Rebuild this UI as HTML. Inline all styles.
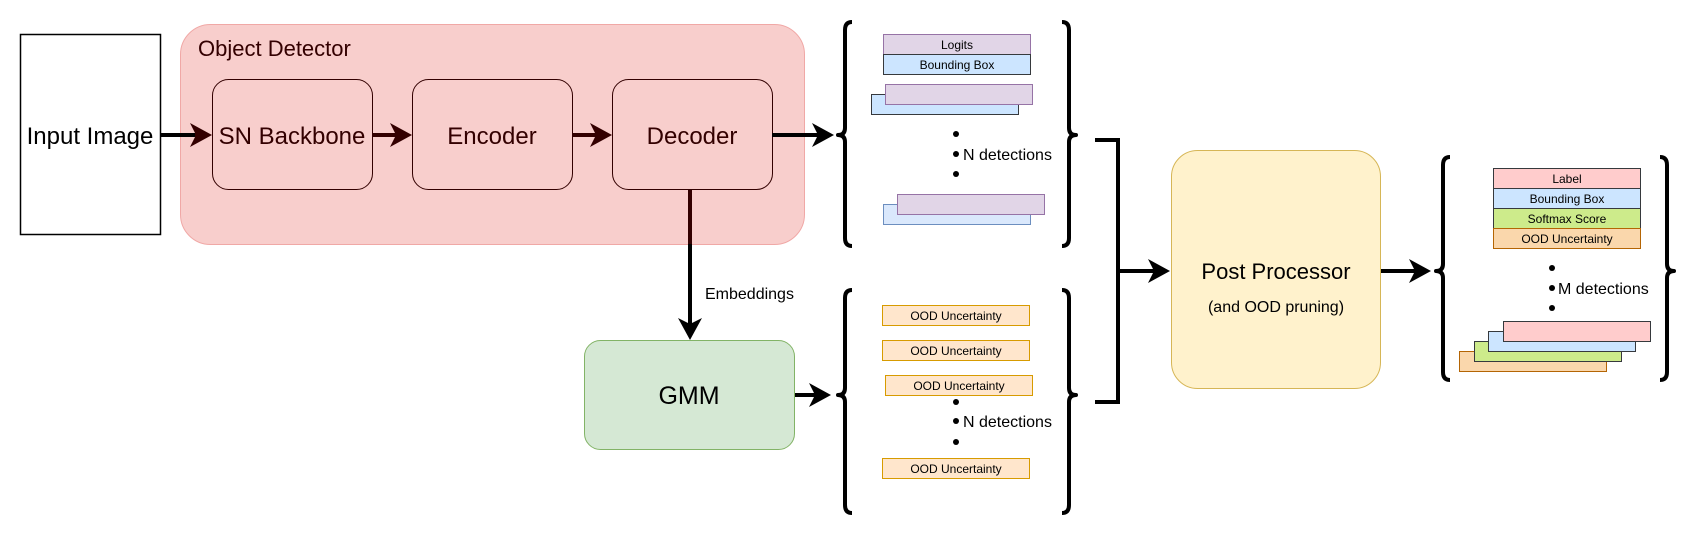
<!DOCTYPE html>
<html><head><meta charset="utf-8"><style>
html,body{margin:0;padding:0;background:#fff;width:1700px;height:538px;overflow:hidden}
svg text{font-family:"Liberation Sans",Arial,sans-serif}
</style></head><body>
<svg width="1700" height="538" viewBox="0 0 1700 538" xmlns="http://www.w3.org/2000/svg">
<rect x="20.5" y="34.5" width="140" height="200" fill="#fff" stroke="#000" stroke-width="1.5"/>
<text x="90" y="144" font-size="24" text-anchor="middle">Input Image</text>
<rect x="180.5" y="24.5" width="624" height="220" rx="30" fill="#f8cecc" stroke="#f0a8a6" stroke-width="1"/>
<text x="198" y="56" font-size="22" fill="#330000">Object Detector</text>
<rect x="212.5" y="79.5" width="160" height="110" rx="16" fill="#f8cecc" stroke="#330000" stroke-width="1"/>
<text x="292" y="144" font-size="24" text-anchor="middle" fill="#330000">SN Backbone</text>
<rect x="412.5" y="79.5" width="160" height="110" rx="16" fill="#f8cecc" stroke="#330000" stroke-width="1"/>
<text x="492" y="144" font-size="24" text-anchor="middle" fill="#330000">Encoder</text>
<rect x="612.5" y="79.5" width="160" height="110" rx="16" fill="#f8cecc" stroke="#330000" stroke-width="1"/>
<text x="692" y="144" font-size="24" text-anchor="middle" fill="#330000">Decoder</text>
<g stroke-width="4">
<line x1="161" y1="135" x2="195" y2="135" stroke="#000"/>
<line x1="195" y1="135" x2="200" y2="135" stroke="#330000"/>
<line x1="372" y1="135" x2="400" y2="135" stroke="#330000"/>
<line x1="572" y1="135" x2="600" y2="135" stroke="#330000"/>
<line x1="772" y1="135" x2="818" y2="135" stroke="#000"/>
<line x1="690" y1="189" x2="690" y2="244" stroke="#330000"/>
<line x1="690" y1="244" x2="690" y2="325" stroke="#000"/>
<line x1="795" y1="395" x2="818" y2="395" stroke="#000"/>
<line x1="1380" y1="271" x2="1416" y2="271" stroke="#000"/>
<line x1="1118" y1="271" x2="1156" y2="271" stroke="#000"/>
<polyline points="1095,140 1118,140 1118,402 1095,402" fill="none" stroke="#000"/>
</g>
<g>
<polygon points="212,135 190,123 196,135 190,147" fill="#330000"/>
<polygon points="412,135 390,123 396,135 390,147" fill="#330000"/>
<polygon points="612,135 590,123 596,135 590,147" fill="#330000"/>
<polygon points="834,135 812,123 818,135 812,147" fill="#000"/>
<polygon points="690,340 678,318 690,324 702,318" fill="#000"/>
<polygon points="831,395 809,383 815,395 809,407" fill="#000"/>
<polygon points="1170,271 1148,259 1154,271 1148,283" fill="#000"/>
<polygon points="1431,271 1409,259 1415,271 1409,283" fill="#000"/>
</g>
<text x="705" y="299" font-size="16">Embeddings</text>
<rect x="584.5" y="340.5" width="210" height="109" rx="16" fill="#d5e8d4" stroke="#82b366" stroke-width="1"/>
<text x="689" y="404" font-size="25" text-anchor="middle">GMM</text>
<g fill="none" stroke="#000" stroke-width="4" stroke-linejoin="round">
<path d="M852,22 Q845,22 845,30 L845,128 Q845,135 838,135 Q845,135 845,142 L845,238 Q845,246 852,246"/>
<path d="M1062,22 Q1069,22 1069,30 L1069,128 Q1069,135 1076,135 Q1069,135 1069,142 L1069,238 Q1069,246 1062,246"/>
<path d="M852,290 Q845,290 845,298 L845,388 Q845,395 838,395 Q845,395 845,402 L845,505 Q845,513 852,513"/>
<path d="M1062,290 Q1069,290 1069,298 L1069,388 Q1069,395 1076,395 Q1069,395 1069,402 L1069,505 Q1069,513 1062,513"/>
<path d="M1450,157 Q1443,157 1443,165 L1443,264 Q1443,271 1436,271 Q1443,271 1443,278 L1443,372 Q1443,380 1450,380"/>
<path d="M1660,157 Q1667,157 1667,165 L1667,264 Q1667,271 1674,271 Q1667,271 1667,278 L1667,372 Q1667,380 1660,380"/>
</g>
<g font-size="12" text-anchor="middle">
<rect x="883.5" y="34.5" width="147" height="20" fill="#e1d5e7" stroke="#9673a6"/>
<text x="957" y="49">Logits</text>
<rect x="883.5" y="54.5" width="147" height="20" fill="#cce5ff" stroke="#36393d"/>
<text x="957" y="69">Bounding Box</text>
<rect x="871.5" y="94.5" width="147" height="20" fill="#cce5ff" stroke="#36393d"/>
<rect x="885.5" y="84.5" width="147" height="20" fill="#e1d5e7" stroke="#9673a6"/>
<rect x="883.5" y="204.5" width="147" height="20" fill="#dae8fc" stroke="#6c8ebf"/>
<rect x="897.5" y="194.5" width="147" height="20" fill="#e1d5e7" stroke="#9673a6"/>
</g>
<g fill="#000">
<circle cx="956" cy="134" r="3"/><circle cx="956" cy="154" r="3"/><circle cx="956" cy="174" r="3"/>
<circle cx="956" cy="402" r="3"/><circle cx="956" cy="421" r="3"/><circle cx="956" cy="442" r="3"/>
<circle cx="1552" cy="268" r="3"/><circle cx="1552" cy="288" r="3"/><circle cx="1552" cy="308" r="3"/>
</g>
<text x="963" y="160" font-size="16">N detections</text>
<text x="963" y="427" font-size="16">N detections</text>
<text x="1558" y="294" font-size="16">M detections</text>
<g font-size="12" text-anchor="middle">
<rect x="882.5" y="305.5" width="147" height="20" fill="#ffe6cc" stroke="#d79b00"/>
<text x="956" y="320">OOD Uncertainty</text>
<rect x="882.5" y="340.5" width="147" height="20" fill="#ffe6cc" stroke="#d79b00"/>
<text x="956" y="355">OOD Uncertainty</text>
<rect x="885.5" y="375.5" width="147" height="20" fill="#ffe6cc" stroke="#d79b00"/>
<text x="959" y="390">OOD Uncertainty</text>
<rect x="882.5" y="458.5" width="147" height="20" fill="#ffe6cc" stroke="#d79b00"/>
<text x="956" y="473">OOD Uncertainty</text>
</g>
<rect x="1171.5" y="150.5" width="209" height="238" rx="26" fill="#fff2cc" stroke="#d6b656"/>
<text x="1276" y="279" font-size="22" text-anchor="middle">Post Processor</text>
<text x="1276" y="312" font-size="16" text-anchor="middle">(and OOD pruning)</text>
<g font-size="12" text-anchor="middle">
<rect x="1493.5" y="168.5" width="147" height="20" fill="#ffcccc" stroke="#36393d"/>
<text x="1567" y="183">Label</text>
<rect x="1493.5" y="188.5" width="147" height="20" fill="#cce5ff" stroke="#36393d"/>
<text x="1567" y="203">Bounding Box</text>
<rect x="1493.5" y="208.5" width="147" height="20" fill="#cdeb8b" stroke="#36393d"/>
<text x="1567" y="223">Softmax Score</text>
<rect x="1493.5" y="228.5" width="147" height="20" fill="#fad7ac" stroke="#b46504"/>
<text x="1567" y="243">OOD Uncertainty</text>
<rect x="1459.5" y="351.5" width="147" height="20" fill="#fad7ac" stroke="#b46504"/>
<rect x="1474.5" y="341.5" width="147" height="20" fill="#cdeb8b" stroke="#36393d"/>
<rect x="1488.5" y="331.5" width="147" height="20" fill="#cce5ff" stroke="#36393d"/>
<rect x="1503.5" y="321.5" width="147" height="20" fill="#ffcccc" stroke="#36393d"/>
</g>
</svg>
</body></html>
